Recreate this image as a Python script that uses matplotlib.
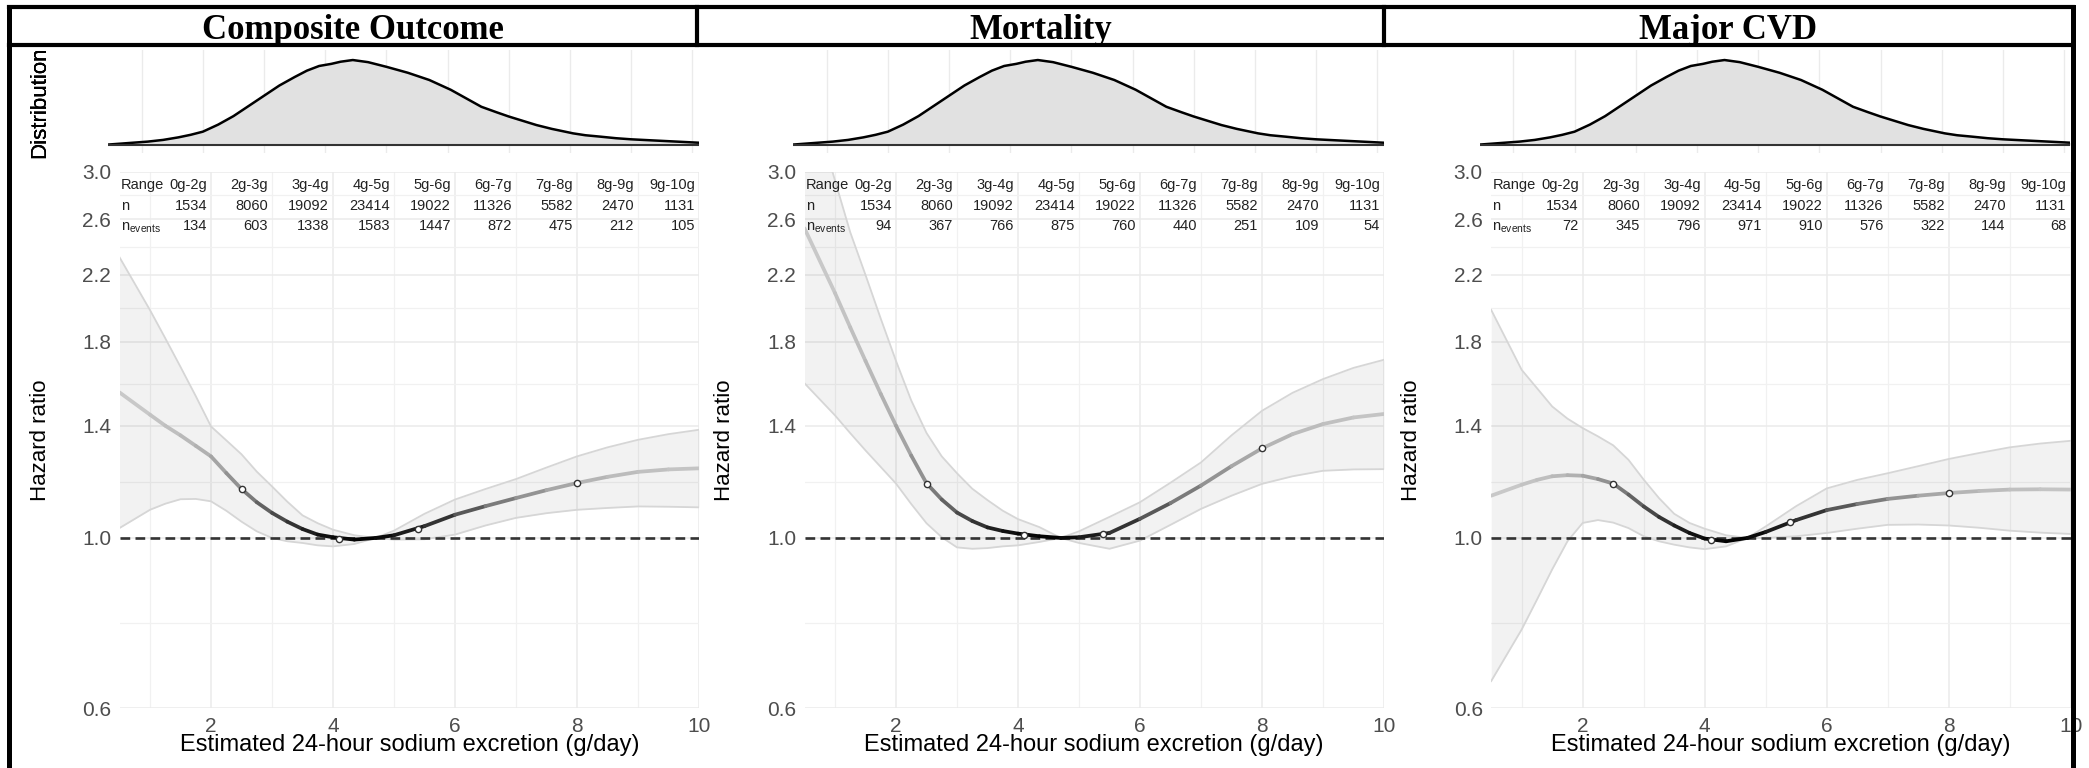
import matplotlib.pyplot as plt
import numpy as np
from matplotlib.collections import LineCollection
from matplotlib.lines import Line2D
from matplotlib.ticker import NullFormatter

plt.rcParams['font.family'] = ['Liberation Sans', 'DejaVu Sans']
plt.rcParams['mathtext.fontset'] = 'custom'
plt.rcParams['mathtext.rm'] = 'Liberation Sans'
plt.rcParams['lines.scale_dashes'] = False

# ---- data ----
titles = ["Composite Outcome", "Mortality", "Major CVD"]

ranges = ["0g-2g", "2g-3g", "3g-4g", "4g-5g", "5g-6g", "6g-7g", "7g-8g", "8g-9g", "9g-10g"]
range_upper = [2, 3, 4, 5, 6, 7, 8, 9, 10]
n_total = [1534, 8060, 19092, 23414, 19022, 11326, 5582, 2470, 1131]
events_composite = [134, 603, 1338, 1583, 1447, 872, 475, 212, 105]
events_mortality = [94, 367, 766, 875, 760, 440, 251, 109, 54]
events_cvd = [72, 345, 796, 971, 910, 576, 322, 144, 68]

# sodium distribution (density, scaled to peak = 1)
dist_x = [0.45, 1.1, 1.35, 1.6, 1.8, 2.0, 2.25, 2.5, 2.75, 3.0, 3.25, 3.5, 3.7, 3.9,
          4.1, 4.25, 4.45, 4.7, 5.0, 5.35, 5.7, 6.05, 6.3, 6.55, 6.8, 7.0, 7.45,
          7.7, 8.05, 8.25, 8.5, 8.75, 9.0, 9.3, 9.55, 9.8, 10.1]
dist_y = [0.005, 0.04, 0.06, 0.09, 0.12, 0.157, 0.24, 0.34, 0.46, 0.58, 0.70, 0.80,
          0.875, 0.93, 0.955, 0.98, 1.0, 0.975, 0.92, 0.85, 0.765, 0.65, 0.55, 0.45,
          0.385, 0.335, 0.235, 0.19, 0.137, 0.115, 0.098, 0.08, 0.067, 0.056, 0.047,
          0.038, 0.027]

# hazard ratio curves
hr_x = [0.5, 1.0, 1.25, 1.5, 1.75, 2.0, 2.25, 2.5, 2.75, 3.0, 3.25, 3.5, 3.75, 4.0,
        4.35, 4.7, 5.0, 5.5, 6.0, 6.5, 7.0, 7.5, 8.0, 8.5, 9.0, 9.5, 10.0]

composite_hr = [1.547, 1.447, 1.40, 1.36, 1.318, 1.277, 1.215, 1.158, 1.113, 1.078, 1.05,
                1.027, 1.01, 1.002, 0.995, 1.0, 1.008, 1.036, 1.072, 1.100, 1.127, 1.154,
                1.179, 1.201, 1.219, 1.228, 1.232]
composite_hi = [2.32, 1.98, 1.82, 1.67, 1.53, 1.397, 1.34, 1.285, 1.22, 1.167, 1.115,
                1.07, 1.045, 1.025, 1.008, 1.0, 1.022, 1.075, 1.122, 1.158, 1.193, 1.235,
                1.277, 1.312, 1.342, 1.365, 1.383]
composite_lo = [1.030, 1.088, 1.108, 1.123, 1.124, 1.116, 1.085, 1.05, 1.02, 1.0, 0.99,
                0.985, 0.978, 0.975, 0.982, 1.0, 0.995, 0.996, 1.010, 1.038, 1.062, 1.077,
                1.088, 1.094, 1.099, 1.098, 1.096]

mortality_hr = [2.53, 2.084, 1.88, 1.70, 1.54, 1.40, 1.28, 1.178, 1.122, 1.079, 1.052,
                1.032, 1.021, 1.013, 1.005, 1.0, 1.002, 1.015, 1.059, 1.11, 1.170, 1.24,
                1.308, 1.365, 1.407, 1.435, 1.450]
mortality_hi = [4.0, 2.92, 2.50, 2.20, 1.93, 1.70, 1.51, 1.37, 1.277, 1.214, 1.159,
                1.12, 1.085, 1.058, 1.033, 1.0, 1.02, 1.065, 1.113, 1.18, 1.254, 1.36,
                1.464, 1.545, 1.610, 1.665, 1.706]
mortality_lo = [1.590, 1.444, 1.369, 1.30, 1.237, 1.177, 1.107, 1.045, 1.002, 0.972, 0.968,
                0.970, 0.975, 0.978, 0.988, 1.0, 0.985, 0.968, 0.992, 1.04, 1.091, 1.135,
                1.176, 1.203, 1.223, 1.228, 1.229]

cvd_hr = [1.135, 1.173, 1.19, 1.203, 1.207, 1.205, 1.193, 1.177, 1.139, 1.099, 1.065,
          1.038, 1.015, 0.998, 0.990, 1.0, 1.018, 1.055, 1.087, 1.107, 1.124, 1.135,
          1.144, 1.151, 1.156, 1.157, 1.156]
cvd_hi = [1.981, 1.655, 1.567, 1.483, 1.43, 1.390, 1.356, 1.32, 1.264, 1.191, 1.127,
          1.075, 1.046, 1.028, 1.008, 1.0, 1.035, 1.10, 1.160, 1.19, 1.214, 1.24,
          1.267, 1.29, 1.312, 1.327, 1.338]
cvd_lo = [0.651, 0.760, 0.831, 0.910, 0.99, 1.046, 1.055, 1.047, 1.03, 1.005, 0.99,
          0.980, 0.972, 0.967, 0.975, 1.0, 1.0, 1.005, 1.015, 1.028, 1.040, 1.041,
          1.038, 1.031, 1.022, 1.016, 1.012]

knot_x = [2.5, 4.1, 5.4, 8.0]
composite_knots = [1.158, 0.998, 1.028, 1.179]
mortality_knots = [1.175, 1.010, 1.012, 1.308]
cvd_knots = [1.177, 0.995, 1.048, 1.144]

panels = [
    (composite_hr, composite_lo, composite_hi, composite_knots, events_composite),
    (mortality_hr, mortality_lo, mortality_hi, mortality_knots, events_mortality),
    (cvd_hr, cvd_lo, cvd_hi, cvd_knots, events_cvd),
]

y_ticks = [0.6, 1.0, 1.4, 1.8, 2.2, 2.6, 3.0]

# ---- layout (pixels) ----
W, H = 2089, 768
fig = plt.figure(figsize=(W / 100, H / 100), dpi=100)


def fx(px):
    return px / W


def fy(py):
    return 1 - py / H


plot_left = [119.5, 804.5, 1491.2]
plot_w = 579.5
hr_top, hr_bot = 171.5, 708.3
d_top, d_bot = 50, 153
box_edges = [9, 697, 1384, 2073]

txt_col = '#222222'
row_y = [0.9683, 0.9292, 0.8901]

for i, (hr, lo, hi, knots, events) in enumerate(panels):
    L = plot_left[i]

    # distribution panel
    dax = fig.add_axes([fx(L - 11.5), fy(d_bot), fx(590.6), (d_bot - d_top) / H])
    dax.fill_between(dist_x, 0, dist_y, color='#e1e1e1', lw=0, zorder=1)
    dax.plot(dist_x, dist_y, color='black', lw=1.8, zorder=3)
    dax.plot([dist_x[0], dist_x[-1]], [0, 0], color='#333333', lw=1.5, zorder=3)
    dax.set_xlim(0.45, 10.1)
    dax.set_ylim(-0.094, 1.118)
    dax.set_xticks(range(1, 11))
    dax.set_yticks([])
    dax.grid(axis='x', color='#ebebeb', lw=1.0)
    dax.set_axisbelow(True)
    dax.tick_params(length=0, labelbottom=False)
    for s in dax.spines.values():
        s.set_visible(False)
    dax.text((40 - (L - 11.5)) / 590.6, 0.49, 'Distribution', transform=dax.transAxes,
             rotation=90, ha='center', va='center', fontsize=16, color='black')

    # hazard ratio panel
    ax = fig.add_axes([fx(L), fy(hr_bot), fx(plot_w), (hr_bot - hr_top) / H])
    ax.set_yscale('log')
    ax.set_xlim(0.5, 10)
    ax.set_ylim(0.6, 3.0)
    ax.set_yticks(y_ticks, labels=[f'{v:.1f}' for v in y_ticks])
    ax.set_yticks([np.sqrt(a * b) for a, b in zip(y_ticks[:-1], y_ticks[1:])], minor=True)
    ax.yaxis.set_minor_formatter(NullFormatter())
    ax.set_xticks([2, 4, 6, 8, 10])
    ax.set_xticks([1, 3, 5, 7, 9], minor=True)
    ax.grid(which='major', color='#ebebeb', lw=1.1)
    ax.grid(which='minor', color='#f1f1f1', lw=0.9)
    ax.set_axisbelow(True)
    ax.tick_params(which='both', length=0, labelsize=15, labelcolor='#4d4d4d', pad=6)
    for s in ax.spines.values():
        s.set_visible(False)

    ax.fill_between(hr_x, lo, hi, color='black', alpha=0.05, lw=0, zorder=1)
    ax.plot(hr_x, lo, color='#d6d6d6', lw=1.3, zorder=2)
    ax.plot(hr_x, hi, color='#d6d6d6', lw=1.3, zorder=2)
    ax.axhline(1.0, color='#333333', lw=1.9, ls=(0, (7, 3.8)), zorder=3)

    # central curve, shaded by how much data sits under it
    pts = np.column_stack([hr_x, hr])
    segs = np.stack([pts[:-1], pts[1:]], axis=1)
    mids = (np.array(hr_x[:-1]) + np.array(hr_x[1:])) / 2
    g = 0.8 * (1 - np.interp(mids, dist_x, dist_y))
    lc = LineCollection(segs, colors=[(v, v, v) for v in g], linewidths=2.7,
                        capstyle='round', zorder=4)
    ax.add_collection(lc)
    ax.plot(knot_x, knots, 'o', ms=4.5, mfc='white', mec='#333333', mew=1.0, zorder=5)

    # counts table
    trans = ax.get_xaxis_transform()
    ax.text(0.52, row_y[0], 'Range', transform=trans, ha='left', va='baseline',
            fontsize=10.5, color=txt_col)
    ax.text(0.52, row_y[1], 'n', transform=trans, ha='left', va='baseline',
            fontsize=10.5, color=txt_col)
    ax.text(0.52, row_y[2], r'n$_{\mathrm{events}}$', transform=trans, ha='left',
            va='baseline', fontsize=10.5, color=txt_col)
    for k, up in enumerate(range_upper):
        xc = up - 0.066
        ax.text(xc, row_y[0], ranges[k], transform=trans, ha='right', va='baseline',
                fontsize=10.5, color=txt_col)
        ax.text(xc, row_y[1], str(n_total[k]), transform=trans, ha='right', va='baseline',
                fontsize=10.5, color=txt_col)
        ax.text(xc, row_y[2], str(events[k]), transform=trans, ha='right', va='baseline',
                fontsize=10.5, color=txt_col)

    ax.set_xlabel('Estimated 24-hour sodium excretion (g/day)', fontsize=17, color='black')
    ax.xaxis.set_label_coords(0.5, -0.048)
    ax.text(-79.5 / plot_w, 0.5, 'Hazard ratio', transform=ax.transAxes, rotation=90,
            ha='center', va='center', fontsize=16, color='black')

    # title box
    fig.text(fx((box_edges[i] + box_edges[i + 1]) / 2), fy(39), titles[i],
             ha='center', va='baseline', fontsize=25, fontweight='bold',
             family='Liberation Serif')

# frame lines
lw_frame = 3.0
for yy in (7, 45):
    fig.add_artist(Line2D([fx(box_edges[0]), fx(box_edges[-1])], [fy(yy), fy(yy)],
                          color='black', lw=lw_frame, transform=fig.transFigure))
for xx in box_edges[1:-1]:
    fig.add_artist(Line2D([fx(xx), fx(xx)], [fy(7), fy(45)],
                          color='black', lw=lw_frame, transform=fig.transFigure))
for xx in (box_edges[0], box_edges[-1]):
    fig.add_artist(Line2D([fx(xx), fx(xx)], [fy(7), fy(768)],
                          color='black', lw=lw_frame + 0.6, transform=fig.transFigure))

fig.savefig('out.png', dpi=100)
